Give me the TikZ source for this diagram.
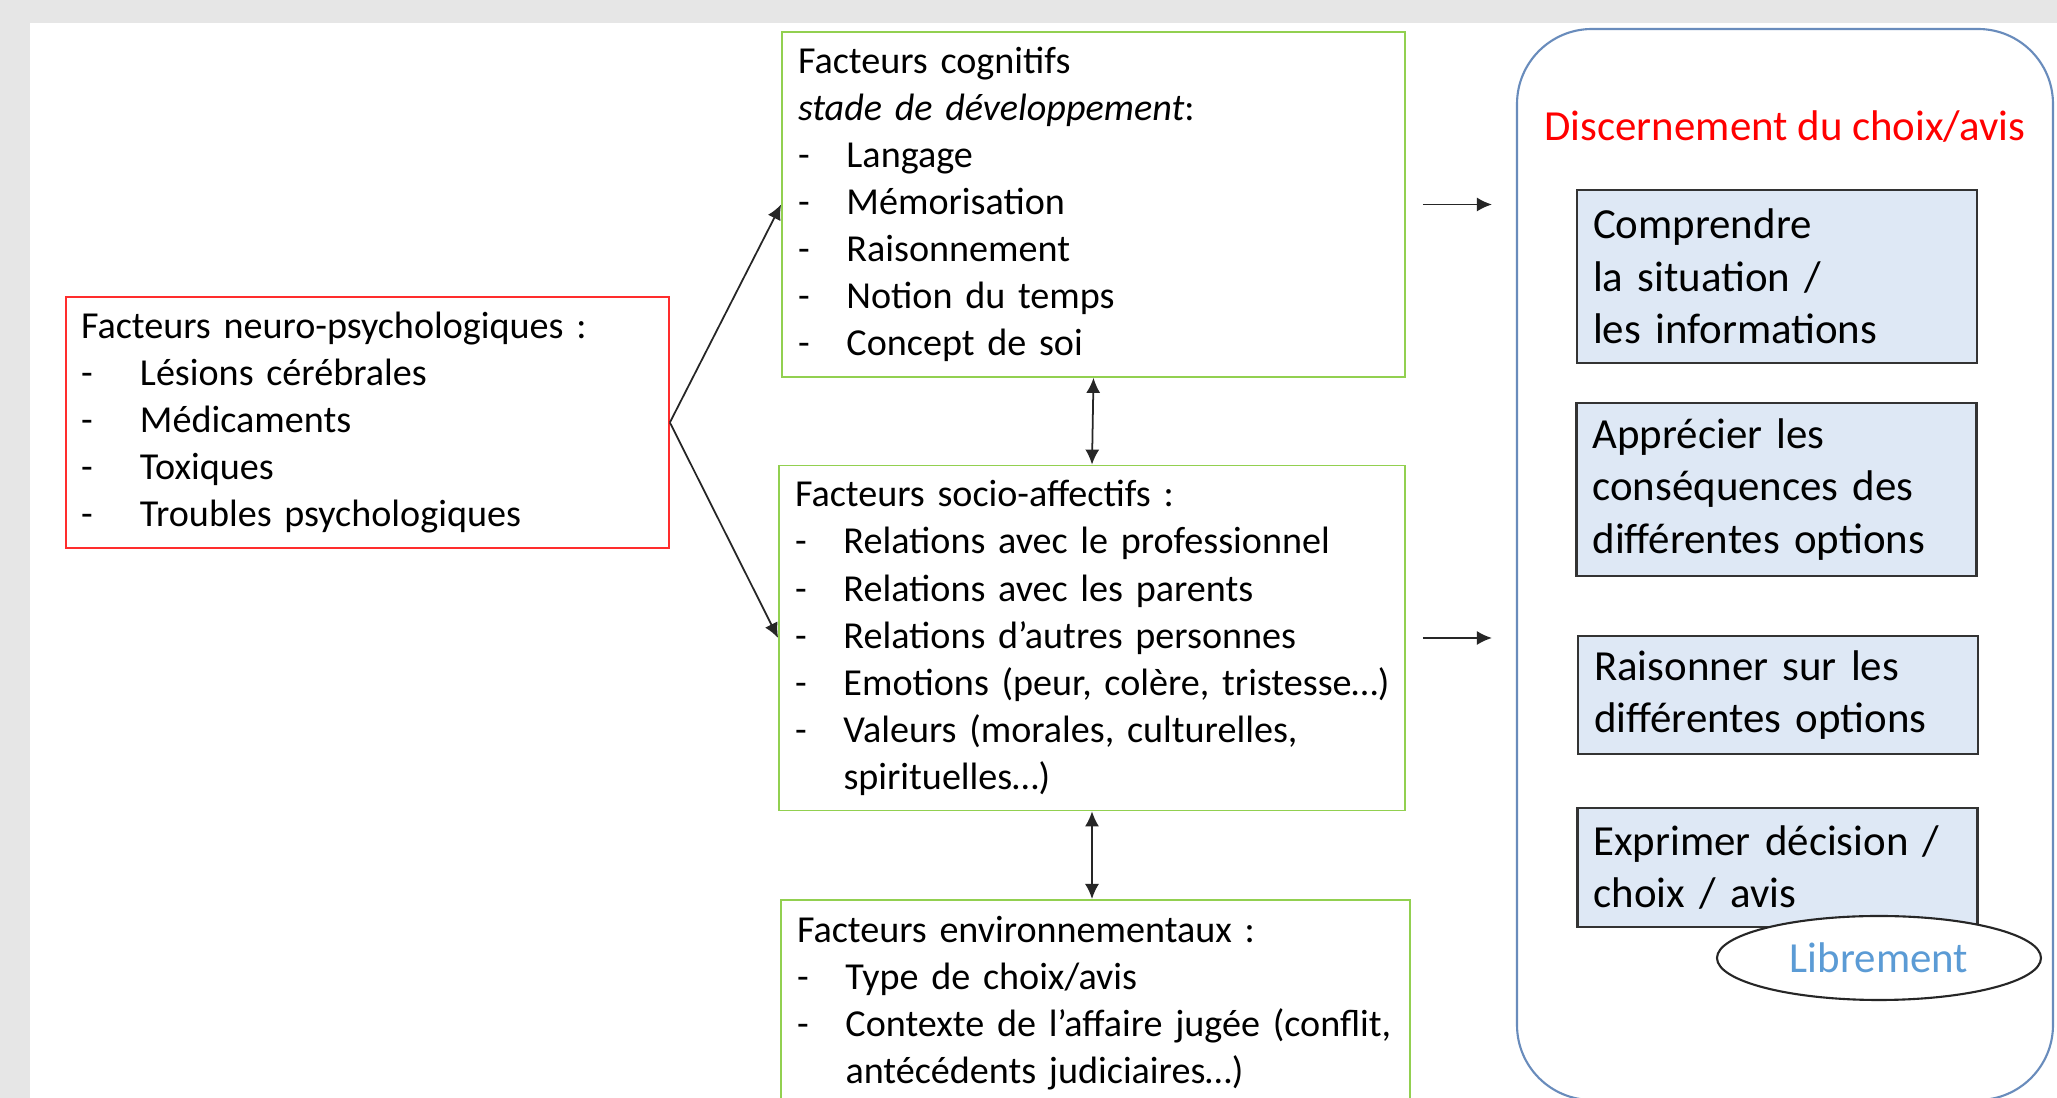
\documentclass[tikz,border=0pt]{standalone}
\usepackage{fontspec}
\setmainfont{Carlito}
\usepackage{tikz}
\usetikzlibrary{arrows.meta,positioning,shapes.geometric}
\definecolor{fond}{RGB}{230,230,230}
\definecolor{vertcadre}{RGB}{146,208,80}
\definecolor{rougecadre}{RGB}{255,45,45}
\definecolor{bleucadre}{RGB}{105,140,188}
\definecolor{bleuboite}{RGB}{222,232,245}
\definecolor{bleutexte}{RGB}{91,155,213}
\newcommand{\tiret}[1][4.85mm]{\makebox[#1][l]{-}}

\begin{document}
\begin{tikzpicture}[
  cause/.style={rectangle,draw=rougecadre,line width=0.5pt,fill=white,align=left,inner xsep=1.5mm,inner ysep=0pt,font=\fontsize{10.85}{13.4}\selectfont},
  facteur/.style={rectangle,draw=vertcadre,line width=0.5pt,fill=white,align=left,inner xsep=1.6mm,inner ysep=0pt,font=\fontsize{10.85}{13.4}\selectfont},
  cadre/.style={rectangle,rounded corners=7.5mm,draw=bleucadre,line width=0.6pt,minimum width=53.6mm,minimum height=107.1mm},
  titre/.style={text=red,font=\fontsize{12.2}{15}\selectfont},
  etape/.style={rectangle,draw=black!80,line width=0.6pt,fill=bleuboite,align=left,text width=36.8mm,inner xsep=1.6mm,inner ysep=0pt,font=\fontsize{12.2}{15}\selectfont},
  bulle/.style={ellipse,draw=black!85,line width=0.6pt,fill=white,minimum width=32.4mm,minimum height=8.4mm,inner sep=0pt,text=bleutexte,font=\fontsize{12.2}{15}\selectfont},
  fleche/.style={-{Latex[length=1.5mm,width=1.4mm]},line width=0.5pt,draw=black!85},
  double/.style={{Latex[length=1.5mm,width=1.4mm]}-{Latex[length=1.5mm,width=1.4mm]},line width=0.5pt,draw=black!85},
]
\useasboundingbox (0,0) rectangle (20.57,-10.98);
\fill[fond] (0,0) rectangle (20.57,-10.98);
\fill[white] (0.30,-0.23) rectangle (20.57,-10.98);

\node[cause,text width=57.3mm,minimum height=25.1mm] (neuro) at (3.675,-4.225) {Facteurs neuro-psychologiques :\\
\tiret[5.9mm]Lésions cérébrales\\
\tiret[5.9mm]Médicaments\\
\tiret[5.9mm]Toxiques\\
\tiret[5.9mm]Troubles psychologiques};

\node[facteur,text width=59.1mm,minimum height=34.5mm] (cogn) at (10.935,-2.045) {Facteurs cognitifs\\
\textit{stade de développement}:\\
\tiret Langage\\
\tiret Mémorisation\\
\tiret Raisonnement\\
\tiret Notion du temps\\
\tiret Concept de soi};

\node[facteur,text width=59.4mm,minimum height=34.5mm] (socio) at (10.92,-6.38) {Facteurs socio-affectifs :\\
\tiret Relations avec le professionnel\\
\tiret Relations avec les parents\\
\tiret Relations d’autres personnes\\
\mbox{\tiret Emotions (peur, colère, tristesse…)}\\
\tiret Valeurs (morales, culturelles,\\
\hspace*{4.85mm}spirituelles…)};

\node[facteur,text width=59.7mm,minimum height=20.6mm,anchor=north] (envir) at (10.955,-8.99) {Facteurs environnementaux :\\
\tiret Type de choix/avis\\
\mbox{\tiret Contexte de l’affaire jugée (conflit,}\\
\hspace*{4.85mm}antécédents judiciaires…)};

\node[cadre] (discern) at (17.85,-5.645) {};
\node[titre] (titre) at (17.85,-1.27) {Discernement du choix/avis};

\node[etape,minimum height=17.3mm] (comprendre) at (17.77,-2.765) {Comprendre\\la situation /\\les informations};
\node[etape,minimum height=17.3mm] (apprecier) at (17.765,-4.895) {Apprécier les\\conséquences des\\différentes options};
\node[etape,minimum height=11.8mm] (raisonner) at (17.78,-6.95) {Raisonner sur les\\différentes options};
\node[etape,minimum height=11.9mm] (exprimer) at (17.775,-8.675) {Exprimer décision /\\choix / avis};
\node[bulle] (librement) at (18.79,-9.58) {Librement};

\draw[fleche] (neuro.east) -- (cogn.west);
\draw[fleche] (neuro.east) -- (socio.west);
\draw[double] (cogn.south) -- (socio.north);
\draw[double] (socio.south) -- (socio.south |- envir.north);
\draw[fleche,shorten <=1.7mm,shorten >=2.4mm] (cogn.east) -- (cogn.east -| discern.west);
\draw[fleche,shorten <=1.7mm,shorten >=2.4mm] (socio.east) -- (socio.east -| discern.west);
\end{tikzpicture}
\end{document}
